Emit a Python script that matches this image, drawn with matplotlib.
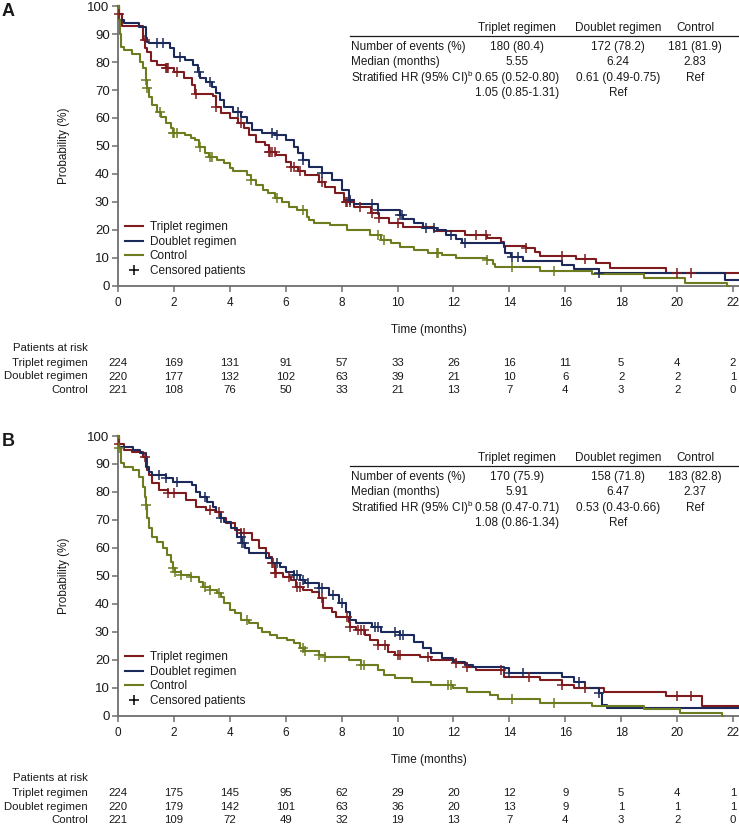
import numpy as np
import matplotlib
matplotlib.use('Agg')
import matplotlib.pyplot as plt
from matplotlib.lines import Line2D

plt.rcParams['font.family'] = ['Liberation Sans', 'DejaVu Sans']
plt.rcParams['mathtext.fontset'] = 'custom'
plt.rcParams['mathtext.rm'] = 'Liberation Sans'

W, H = 739, 826
arms = ['Triplet regimen', 'Doublet regimen', 'Control']
colors = ['#7e1b1e', '#1b2a5a', '#6c7c1f']

# ---- panel A: step curves (time in months, survival in %) ----
a_triplet = [(0, 100), (0.05, 97), (0.15, 93), (0.9, 88), (0.97, 85), (1.02, 83.5), (1.17, 80.5),
             (1.4, 79), (1.7, 78), (2.0, 76.5), (2.35, 74.2), (2.65, 71.8), (2.77, 68.5), (3.4, 68),
             (3.5, 64), (3.7, 61.7), (4.0, 60), (4.3, 58.2), (4.5, 56.4), (4.7, 53.9), (4.95, 51.5),
             (5.25, 50.4), (5.4, 48), (5.65, 46.8), (6.0, 44.4), (6.2, 42.6), (6.45, 41), (6.7, 39.6),
             (7.2, 37.3), (7.4, 35.5), (7.75, 33.1), (8.1, 30.1), (8.45, 28.3), (9.05, 26), (9.35, 24.2),
             (9.7, 22.5), (10.2, 21.2), (11.3, 19.5), (12.4, 18.2), (13.2, 17), (13.7, 15.8), (13.8, 14.3),
             (14.6, 13.5), (14.9, 12.3), (15.1, 10.7), (16.4, 9.5), (17.1, 8.3), (17.6, 6.3), (19.6, 4.8),
             (22.25, 4.8)]
a_doublet = [(0, 100), (0.05, 95), (0.2, 94), (0.75, 92.6), (1.0, 88.5), (1.05, 87.3), (1.1, 86.7),
             (1.85, 84.9), (2.0, 81.9), (2.4, 80.7), (2.7, 78.9), (2.85, 76.5), (2.95, 74.2), (3.15, 73),
             (3.35, 71), (3.5, 68.8), (3.65, 66.4), (3.8, 64), (4.1, 62.3), (4.4, 60.5), (4.6, 58.1),
             (4.8, 55.7), (5.15, 54.8), (5.6, 53.9), (6.0, 52.1), (6.3, 49.8), (6.45, 47.4), (6.6, 45),
             (6.82, 42.6), (7.3, 40.2), (7.65, 37.9), (8.0, 34.3), (8.25, 30.7), (8.45, 29.2), (9.3, 27.1),
             (10.1, 25.4), (10.2, 23.8), (10.6, 22.4), (10.9, 20.8), (11.4, 20), (11.75, 18.2),
             (12.1, 16.7), (12.3, 15.2), (13.8, 14), (13.85, 11.7), (14.05, 10.5), (14.5, 8.9),
             (15.9, 7.5), (16.3, 6), (17.2, 4.5), (21.7, 2), (22.25, 2)]
a_control = [(0, 100), (0.03, 95), (0.06, 90), (0.1, 85.5), (0.2, 84.3), (0.5, 82.8), (0.8, 80.1),
             (0.9, 77.7), (1.0, 73.6), (1.05, 70.6), (1.1, 67.6), (1.2, 64.6), (1.4, 62.3), (1.55, 60.5),
             (1.7, 58.1), (1.9, 56.3), (1.95, 54.5), (2.4, 54), (2.6, 52.7), (2.75, 52.1), (2.9, 49.8),
             (3.1, 47.4), (3.25, 46.2), (3.55, 45), (3.8, 43.8), (4.0, 42), (4.1, 41.2), (4.6, 39.6),
             (4.75, 37.9), (4.95, 36.1), (5.2, 34.3), (5.35, 33.1), (5.6, 31.3), (5.85, 30.1), (6.1, 28.3),
             (6.4, 27.1), (6.75, 24.8), (6.85, 23.6), (7.0, 22.5), (7.6, 21.8), (8.2, 20), (9.0, 18.2),
             (9.4, 16.4), (9.75, 15.2), (10.1, 14), (10.6, 12.9), (11.1, 11.7), (11.6, 11.1), (12.1, 9.9),
             (13.2, 9.3), (13.4, 7.9), (13.5, 6.9), (15.1, 5.5), (16.95, 4.2), (18.8, 2.7), (20.3, 1.2),
             (21.8, 0), (21.85, 0)]

a_cens_triplet = [0.05, 0.95, 1.7, 1.75, 1.8, 2.1, 2.8, 3.5, 4.4, 5.4, 5.45, 5.5, 5.6, 6.2, 6.3, 6.5,
                  7.3, 8.15, 8.2, 8.3, 8.65, 9.1, 9.35, 10.0, 12.8, 13.15, 14.6, 15.9, 16.7, 20.0, 20.5]
a_cens_doublet = [1.4, 1.6, 2.2, 2.9, 3.3, 4.3, 5.5, 5.7, 6.6, 7.3, 8.3, 9.1, 9.3, 10.1, 10.15, 11.0,
                  11.3, 11.9, 12.4, 14.1, 14.3, 17.2]
a_cens_control = [1.0, 1.05, 1.5, 1.95, 2.0, 2.1, 2.95, 3.3, 3.35, 4.75, 5.7, 6.6, 9.3, 9.5, 11.4,
                  11.45, 13.2, 14.1, 15.6]

# ---- panel B ----
b_triplet = [(0, 100), (0.05, 97), (0.2, 95), (0.5, 94.4), (0.9, 92.6), (1.05, 87.9), (1.1, 86.1),
             (1.2, 83.1), (1.45, 80.7), (1.8, 79.5), (2.45, 77.1), (2.8, 74.8), (3.15, 73.6), (3.5, 73),
             (3.7, 70.6), (3.85, 68.8), (4.2, 66.4), (4.4, 65.2), (4.8, 62.9), (5.05, 59.9), (5.3, 58.1),
             (5.4, 56.9), (5.5, 54.5), (5.6, 51), (5.9, 49.8), (6.2, 48.6), (6.35, 46.2), (6.6, 45),
             (6.94, 44.4), (7.2, 42), (7.35, 38.5), (7.65, 37.3), (7.8, 35.5), (8.25, 33.7), (8.3, 31.9),
             (8.5, 30.7), (8.85, 28.9), (9.0, 27.1), (9.3, 25.4), (9.65, 23), (9.9, 21.8), (10.8, 21.2),
             (11.2, 20), (12.1, 18.8), (12.5, 17.6), (12.8, 16.4), (13.8, 14), (15.1, 12.9), (15.9, 11.1),
             (16.3, 9.9), (17.4, 8.7), (19.6, 7.1), (20.9, 3.6), (22.25, 3.6)]
b_doublet = [(0, 100), (0.05, 96.2), (0.55, 95), (0.8, 93.8), (1.0, 89), (1.1, 87.3), (1.2, 86.1),
             (1.7, 84.9), (1.95, 83.7), (2.65, 82.5), (2.8, 80.1), (2.95, 78.3), (3.2, 76.5), (3.4, 74.8),
             (3.5, 73), (3.65, 70.6), (3.8, 69.4), (4.05, 67), (4.25, 64), (4.45, 61.7), (4.55, 59.9),
             (4.7, 58.1), (5.3, 56.3), (5.5, 54.5), (5.8, 53.3), (6.0, 51.5), (6.3, 50.4), (6.5, 48.6),
             (6.7, 47.4), (7.2, 45.6), (7.55, 43.2), (7.9, 40.2), (8.15, 37.3), (8.3, 34.3), (8.5, 33.1),
             (9.1, 31.9), (9.4, 30.1), (10.1, 28.9), (10.6, 26.5), (10.9, 24.2), (11.2, 22.4), (11.6, 20.6),
             (12.0, 19.4), (12.4, 18.2), (12.7, 17.6), (13.8, 17), (14.0, 15.2), (15.9, 14), (16.3, 12.3),
             (16.7, 9.9), (17.2, 8.1), (17.3, 3.9), (17.5, 2.7), (22.25, 2.7)]
b_control = [(0, 100), (0.03, 95.7), (0.1, 90.2), (0.2, 89), (0.55, 87.9), (0.75, 85.5), (0.9, 81.9),
             (0.95, 78.3), (1.0, 75.4), (1.05, 70.6), (1.1, 67), (1.2, 64), (1.4, 62.3), (1.6, 59.9),
             (1.75, 57.5), (1.9, 55.1), (1.95, 52.7), (2.05, 51.5), (2.25, 50.4), (2.6, 49.8), (2.9, 48),
             (3.05, 46.2), (3.3, 45), (3.55, 43.8), (3.7, 42.6), (3.8, 40.2), (4.0, 37.9), (4.2, 36.7),
             (4.4, 34.3), (4.7, 33.1), (5.0, 31.3), (5.15, 30.1), (5.45, 28.9), (5.7, 27.7), (6.05, 27.1),
             (6.3, 25.9), (6.5, 24.2), (6.65, 23.3), (7.2, 21.8), (7.4, 21.2), (8.25, 20), (8.7, 18.2),
             (9.3, 16.4), (9.5, 14.6), (9.9, 13.5), (10.5, 12.3), (11.2, 11.1), (12.0, 9.9), (12.5, 8.7),
             (13.3, 7.5), (13.6, 5.9), (15.1, 4.5), (16.95, 3.6), (18.8, 2.4), (20.1, 1.2), (21.6, 0),
             (21.65, 0)]

b_cens_triplet = [0.05, 0.95, 1.8, 2.0, 3.3, 3.6, 4.4, 4.5, 5.5, 5.55, 5.6, 5.65, 6.1, 6.4, 6.5, 7.3,
                  8.2, 8.3, 8.6, 8.7, 8.8, 9.3, 9.55, 10.0, 10.1, 11.1, 12.1, 12.5, 13.7, 14.7, 15.9,
                  16.7, 20.0, 20.5]
b_cens_doublet = [1.45, 1.7, 2.1, 3.1, 3.7, 4.4, 4.45, 4.5, 5.7, 6.3, 6.4, 6.6, 6.8, 7.2, 7.3, 7.7,
                  8.0, 9.2, 9.3, 9.9, 10.1, 10.2, 14.0, 14.5, 16.5, 17.2]
b_cens_control = [0.05, 1.0, 1.95, 2.05, 2.25, 2.6, 3.1, 3.3, 3.6, 4.6, 6.6, 6.7, 7.2, 7.4, 8.7, 8.8,
                  11.8, 11.9, 14.1, 15.6]

# ---- patients at risk ----
risk_times = [0, 2, 4, 6, 8, 10, 12, 14, 16, 18, 20, 22]
a_risk_triplet = [224, 169, 131, 91, 57, 33, 26, 16, 11, 5, 4, 2]
a_risk_doublet = [220, 177, 132, 102, 63, 39, 21, 10, 6, 2, 2, 1]
a_risk_control = [221, 108, 76, 50, 33, 21, 13, 7, 4, 3, 2, 0]
b_risk_triplet = [224, 175, 145, 95, 62, 29, 20, 12, 9, 5, 4, 1]
b_risk_doublet = [220, 179, 142, 101, 63, 36, 20, 13, 9, 1, 1, 1]
b_risk_control = [221, 109, 72, 49, 32, 19, 13, 7, 4, 3, 2, 0]

# ---- summary tables ----
row_names = ['Number of events (%)', 'Median (months)', r'Stratified HR (95% CI)$^{\rm b}$', '']
a_events = ['180 (80.4)', '172 (78.2)', '181 (81.9)']
a_median = ['5.55', '6.24', '2.83']
a_hr = ['0.65 (0.52-0.80)', '0.61 (0.49-0.75)', 'Ref']
a_hr2 = ['1.05 (0.85-1.31)', 'Ref', '']
b_events = ['170 (75.9)', '158 (71.8)', '183 (82.8)']
b_median = ['5.91', '6.47', '2.37']
b_hr = ['0.58 (0.47-0.71)', '0.53 (0.43-0.66)', 'Ref']
b_hr2 = ['1.08 (0.86-1.34)', 'Ref', '']

FS = 8.5
RFS = 8.2
TXT = '#1a1a1a'
AXC = '#6e6e6e'
ROW0, ROWSTEP = 77, 13.5


def fx(px):
    return px / W


def fy(py):
    return 1 - py / H


def step_value(curve, t):
    ts = np.array([p[0] for p in curve])
    ss = np.array([p[1] for p in curve])
    i = np.searchsorted(ts, t, side='right') - 1
    return ss[i]


def draw_panel(fig, dy, letter, curves, censors, risks, table):
    ax = fig.add_axes([fx(118), fy(286 + dy), fx(739 - 118), (286 - 6) / H])
    for curve, cens, col in zip(curves, censors, colors):
        ts = [p[0] for p in curve]
        ss = [p[1] for p in curve]
        ax.step(ts, ss, where='post', color=col, lw=1.5, clip_on=False, zorder=3)
        cy = [step_value(curve, t) for t in cens]
        ax.plot(cens, cy, linestyle='None', marker='+', markersize=6.5, mew=1.1, color=col,
                clip_on=False, zorder=4)
    ax.set_xlim(0, 22 * 621 / 615)
    ax.set_ylim(0, 100)
    ax.set_xticks(risk_times)
    ax.set_yticks(range(0, 101, 10))
    for s in ['top', 'right']:
        ax.spines[s].set_visible(False)
    for s in ['left', 'bottom']:
        ax.spines[s].set_color(AXC)
        ax.spines[s].set_linewidth(1.3)
    ax.tick_params(axis='x', length=4, width=1.1, color=AXC, pad=4, labelsize=FS, labelcolor=TXT)
    ax.tick_params(axis='y', length=4, width=1.1, color=AXC, pad=2, labelsize=9.5, labelcolor=TXT)
    ax.set_ylabel('Probability (%)', fontsize=FS, color=TXT)
    ax.yaxis.set_label_coords(-(118 - 70) / 621, 0.5)

    handles = [Line2D([], [], color=c, lw=1.5) for c in colors]
    handles.append(Line2D([], [], color='black', marker='+', linestyle='None', markersize=7, mew=1.1))
    ax.legend(handles, arms + ['Censored patients'], loc='upper left', bbox_to_anchor=(0.011, 0.232),
              frameon=False, fontsize=FS, borderpad=0, borderaxespad=0, handlelength=1.55,
              handletextpad=0.55, labelspacing=0.22, labelcolor=TXT)

    fig.text(fx(2), fy(11 + dy), letter, fontsize=13, fontweight='bold', va='center', color=TXT)

    # time label and risk table
    ax.annotate('Time (months)', xy=(0.5, 0), xycoords='axes fraction', xytext=(0, -44 * 0.72),
                textcoords='offset points', ha='center', va='center', fontsize=FS, color=TXT)
    fig.text(fx(88), fy(286 + dy + 62), 'Patients at risk', ha='right', va='center', fontsize=RFS,
             color=TXT)
    for k, (name, counts) in enumerate(zip(arms, risks)):
        off = ROW0 + k * ROWSTEP
        fig.text(fx(88), fy(286 + dy + off), name, ha='right', va='center', fontsize=RFS, color=TXT)
        for t, n in zip(risk_times, counts):
            ax.annotate(str(n), xy=(t, 0), xycoords=('data', 'axes fraction'),
                        xytext=(0, -off * 0.72), textcoords='offset points',
                        ha='center', va='center', fontsize=RFS, color=TXT, annotation_clip=False)

    # summary table
    col_x = [517, 618, 695]
    for x, name in zip(col_x, arms):
        fig.text(fx(x), fy(28 + dy), name, ha='center', va='center', fontsize=FS, color=TXT)
    fig.add_artist(Line2D([fx(350), fx(739)], [fy(36 + dy), fy(36 + dy)], color=TXT, lw=0.9))
    row_y = [47, 62, 78, 93]
    for yy, label, vals in zip(row_y, row_names, table):
        if label:
            fig.text(fx(351), fy(yy + dy), label, ha='left', va='center', fontsize=FS, color=TXT)
        for x, v in zip(col_x, vals):
            fig.text(fx(x), fy(yy + dy), v, ha='center', va='center', fontsize=FS, color=TXT)
    return ax


fig = plt.figure(figsize=(W / 100, H / 100), dpi=100)
draw_panel(fig, 0, 'A', [a_triplet, a_doublet, a_control],
           [a_cens_triplet, a_cens_doublet, a_cens_control],
           [a_risk_triplet, a_risk_doublet, a_risk_control],
           [a_events, a_median, a_hr, a_hr2])
draw_panel(fig, 430, 'B', [b_triplet, b_doublet, b_control],
           [b_cens_triplet, b_cens_doublet, b_cens_control],
           [b_risk_triplet, b_risk_doublet, b_risk_control],
           [b_events, b_median, b_hr, b_hr2])
fig.savefig('out.png', dpi=100)
